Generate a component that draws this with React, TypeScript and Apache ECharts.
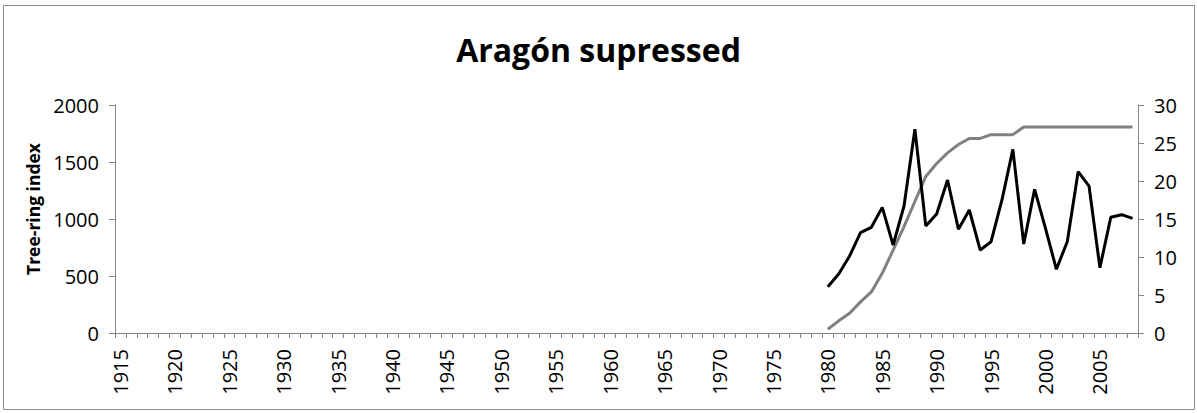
import React, { useEffect, useRef } from "react";
import * as echarts from "echarts";

const firstYear = 1915;
const lastYear = 2008;
const years: string[] = [];
for (let y = firstYear; y <= lastYear; y++) years.push(String(y));

const dataStartYear = 1980;
// Tree-ring index (left axis), 1980-2008
const treeRingIndex = [
  406, 517, 675, 880, 927, 1102, 772, 1114, 1787, 939,
  1044, 1342, 910, 1079, 728, 801, 1167, 1611, 781, 1260,
  918, 559, 801, 1415, 1289, 573, 1015, 1038, 1006,
];
// Sample depth (right axis), 1980-2008
const sampleDepth = [
  0.5, 1.6, 2.6, 4.1, 5.4, 7.85, 10.9, 14.0, 17.3, 20.6,
  22.3, 23.7, 24.8, 25.6, 25.6, 26.1, 26.1, 26.1, 27.1, 27.1,
  27.1, 27.1, 27.1, 27.1, 27.1, 27.1, 27.1, 27.1, 27.1,
];

const leftTicks = { min: 0, max: 2000, interval: 500 };
const rightTicks = { min: 0, max: 30, interval: 5 };

const pad = (vals: number[]) =>
  years.map((y) => {
    const i = Number(y) - dataStartYear;
    return i >= 0 && i < vals.length ? vals[i] : null;
  });

export default function App() {
  const ref = useRef<HTMLDivElement>(null);
  useEffect(() => {
    document.body.style.margin = "0";
    if (!ref.current) return;
    const chart = echarts.init(ref.current, null, { renderer: "svg" });
    const axisColor = "#868686";
    const font = "'Open Sans', sans-serif";
    const plain = (v: number) => String(v);
    chart.setOption({
      animation: false,
      backgroundColor: "#ffffff",
      title: {
        text: "Aragón supressed",
        left: "center",
        top: 28,
        textStyle: { fontFamily: font, fontSize: 32, fontWeight: "bold", color: "#000" },
      },
      graphic: [
        {
          type: "rect",
          shape: { x: 3.5, y: 5.5, width: 1191, height: 404 },
          style: { fill: "none", stroke: "#8c8c8c", lineWidth: 1 },
          silent: true,
        },
        {
          type: "text",
          x: 33,
          y: 209,
          rotation: Math.PI / 2,
          style: {
            text: "Tree-ring index",
            fontFamily: font,
            fontSize: 17.5,
            fontWeight: "bold",
            fill: "#000",
            textAlign: "center",
            textVerticalAlign: "middle",
          },
        },
      ],
      grid: { left: 115, right: 59, top: 105, bottom: 80 },
      xAxis: {
        type: "category",
        data: years,
        boundaryGap: true,
        axisLine: { lineStyle: { color: axisColor, width: 1 } },
        axisTick: { show: true, interval: 0, length: 5, lineStyle: { color: axisColor } },
        axisLabel: {
          interval: 4,
          rotate: 90,
          margin: 16,
          fontFamily: font,
          fontSize: 20,
          color: "#000",
        },
        splitLine: { show: false },
      },
      yAxis: [
        {
          type: "value",
          position: "left",
          ...leftTicks,
          axisLine: { show: true, lineStyle: { color: axisColor } },
          axisTick: { show: true, length: 6, lineStyle: { color: axisColor } },
          axisLabel: { margin: 16, fontFamily: font, fontSize: 20, color: "#000", formatter: plain },
          splitLine: { show: false },
        },
        {
          type: "value",
          position: "right",
          ...rightTicks,
          axisLine: { show: true, lineStyle: { color: axisColor } },
          axisTick: { show: true, length: 6, lineStyle: { color: axisColor } },
          axisLabel: { margin: 16, fontFamily: font, fontSize: 20, color: "#000", formatter: plain },
          splitLine: { show: false },
        },
      ],
      series: [
        {
          name: "Sample depth",
          type: "line",
          yAxisIndex: 1,
          data: pad(sampleDepth),
          showSymbol: false,
          symbol: "none",
          lineStyle: { color: "#808080", width: 3 },
          z: 2,
        },
        {
          name: "Tree-ring index",
          type: "line",
          yAxisIndex: 0,
          data: pad(treeRingIndex),
          showSymbol: false,
          symbol: "none",
          lineStyle: { color: "#000000", width: 3 },
          z: 3,
        },
      ],
    });
    return () => chart.dispose();
  }, []);
  return <div ref={ref} style={{ width: 1197, height: 413 }} />;
}
